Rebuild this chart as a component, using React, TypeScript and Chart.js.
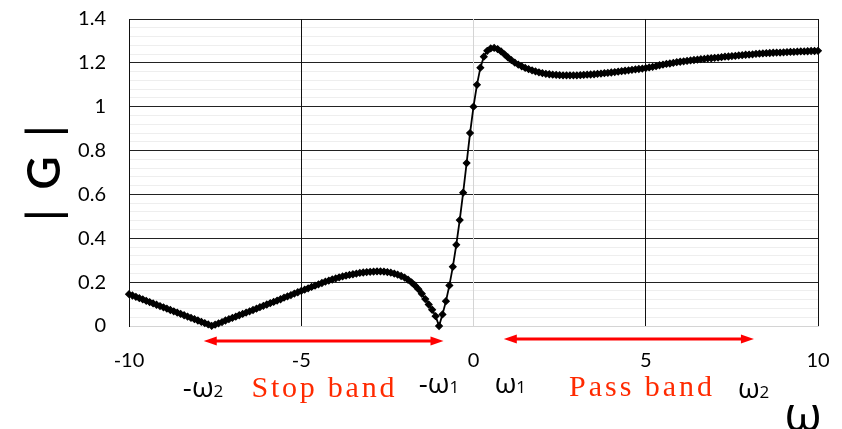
import React, { useEffect, useRef } from "react";
import { Chart, registerables } from "chart.js";

Chart.register(...registerables);

// ω axis categories: -10 … 10, step 0.1
const omegaStart = -10;
const omegaStep = 0.1;

// |G|, ω = -10.0 … -1.0
const gainStopSide = [
  0.145, 0.139, 0.133, 0.127, 0.121, 0.115, 0.109, 0.103, 0.097, 0.091,
  0.085, 0.079, 0.073, 0.067, 0.061, 0.055, 0.049, 0.043, 0.037, 0.031,
  0.025, 0.019, 0.013, 0.007, 0.001,
  0.006, 0.012, 0.018, 0.025, 0.031, 0.037, 0.043, 0.049, 0.055, 0.061,
  0.067, 0.073, 0.079, 0.086, 0.092, 0.098, 0.104, 0.110, 0.116, 0.122,
  0.129, 0.135, 0.141, 0.148, 0.154, 0.160,
  0.166, 0.172, 0.178, 0.184, 0.190, 0.196, 0.202, 0.207, 0.212, 0.217,
  0.222, 0.226, 0.230, 0.233, 0.236, 0.239, 0.242, 0.244, 0.246, 0.247,
  0.248, 0.249, 0.249, 0.248, 0.246, 0.243, 0.239, 0.234, 0.228, 0.221,
  0.211, 0.199, 0.185, 0.168, 0.147, 0.123, 0.098, 0.074, 0.045, 0.000,
];
// ω = -0.9 … 0.0
const gainTransition = [0.053, 0.113, 0.185, 0.27, 0.37, 0.483, 0.608, 0.743, 0.88, 1.0];
// ω = 0.1 … 10.0
const gainPassSide = [
  1.100, 1.178, 1.228, 1.255, 1.266, 1.268, 1.263, 1.252, 1.239, 1.225,
  1.212, 1.201, 1.192, 1.184, 1.177, 1.171, 1.166, 1.161, 1.157, 1.153,
  1.150, 1.148, 1.146, 1.145, 1.144, 1.143, 1.143, 1.143, 1.143, 1.143,
  1.144, 1.145, 1.146, 1.147, 1.148, 1.150, 1.151, 1.153, 1.154, 1.156,
  1.158, 1.160, 1.162, 1.164, 1.166, 1.168, 1.170, 1.172, 1.174, 1.176,
  1.179, 1.182, 1.185, 1.189, 1.192, 1.195, 1.197, 1.200, 1.203, 1.205,
  1.207, 1.209, 1.211, 1.213, 1.215, 1.217, 1.218, 1.220, 1.221, 1.223,
  1.224, 1.226, 1.228, 1.229, 1.231, 1.232, 1.234, 1.235, 1.237, 1.238,
  1.239, 1.241, 1.242, 1.243, 1.244, 1.245, 1.246, 1.247, 1.247, 1.248,
  1.249, 1.250, 1.250, 1.251, 1.252, 1.252, 1.253, 1.254, 1.254, 1.255,
];

const gainValues = [...gainStopSide, ...gainTransition, ...gainPassSide];
const omegaValues = gainValues.map((_, i) => Math.round((omegaStart + i * omegaStep) * 10) / 10);

// axes
const xMin = -10;
const xMax = 10;
const xTickStep = 5;
const yMin = 0;
const yMax = 1.4;
const yMinorStep = 0.04;
const yMajorStep = 0.2;

// band annotations (ω units)
const bandNames = ["Stop band", "Pass band"];
const bandFrom = [-7.83, 0.88];
const bandTo = [-0.87, 8.14];
const bandLabelX = [-4.37, 4.85];

// ω marks under the axis
const omegaMarkText = ["-ω", "-ω", "ω", "ω"];
const omegaMarkSub = ["2", "1", "1", "2"];
const omegaMarkX = [-7.85, -1.0, 1.07, 8.13];

const axisTitleY = "|G|";
const axisTitleX = "ω";

const annotationPlugin = {
  id: "bandAnnotations",
  afterDraw(chart: any) {
    const ctx: CanvasRenderingContext2D = chart.ctx;
    const xs = chart.scales.x;
    const area = chart.chartArea;
    ctx.save();

    // arrows
    const arrowDy = [15, 13];
    bandFrom.forEach((f, i) => {
      const x1 = xs.getPixelForValue(f);
      const x2 = xs.getPixelForValue(bandTo[i]);
      const y = area.bottom + arrowDy[i];
      const head = 13;
      const half = 4.5;
      ctx.strokeStyle = "#ff0000";
      ctx.fillStyle = "#ff0000";
      ctx.lineWidth = 3;
      ctx.beginPath();
      ctx.moveTo(x1 + head - 2, y);
      ctx.lineTo(x2 - head + 2, y);
      ctx.stroke();
      ctx.beginPath();
      ctx.moveTo(x1, y);
      ctx.lineTo(x1 + head, y - half);
      ctx.lineTo(x1 + head, y + half);
      ctx.closePath();
      ctx.fill();
      ctx.beginPath();
      ctx.moveTo(x2, y);
      ctx.lineTo(x2 - head, y - half);
      ctx.lineTo(x2 - head, y + half);
      ctx.closePath();
      ctx.fill();
    });

    // band labels
    const bandBase = [71, 70];
    bandNames.forEach((name, i) => {
      const target = 143;
      ctx.font = '30px "Liberation Serif"';
      (ctx as any).letterSpacing = "0px";
      const w0 = ctx.measureText(name).width;
      const ls = (target - w0) / (name.length - 1);
      (ctx as any).letterSpacing = ls + "px";
      ctx.fillStyle = "#ff2a00";
      ctx.textAlign = "left";
      ctx.textBaseline = "alphabetic";
      ctx.fillText(name, xs.getPixelForValue(bandLabelX[i]) - target / 2, area.bottom + bandBase[i]);
      (ctx as any).letterSpacing = "0px";
    });

    // omega marks
    const markBase = [71, 67, 67, 72];
    omegaMarkText.forEach((t, i) => {
      ctx.fillStyle = "#000";
      ctx.textBaseline = "alphabetic";
      ctx.textAlign = "left";
      ctx.font = '28px "Open Sans"';
      const wMain = ctx.measureText(t).width;
      ctx.font = '17px "Open Sans"';
      const wSub = ctx.measureText(omegaMarkSub[i]).width;
      const cx = xs.getPixelForValue(omegaMarkX[i]);
      const left = cx - (wMain + wSub) / 2;
      const base = area.bottom + markBase[i];
      ctx.font = '28px "Open Sans"';
      ctx.fillText(t, left, base);
      ctx.font = '17px "Open Sans"';
      ctx.fillText(omegaMarkSub[i], left + wMain, base);
    });

    // big ω axis title
    ctx.font = '48px "Open Sans"';
    ctx.textAlign = "center";
    ctx.fillText(axisTitleX, area.right - 15, area.bottom + 105);

    // |G| rotated title
    ctx.translate(60, (area.top + area.bottom) / 2 + 0.5);
    ctx.rotate(-Math.PI / 2);
    ctx.font = '600 46px "Lato"';
    ctx.textAlign = "left";
    const wBar = ctx.measureText("|").width;
    const wG = ctx.measureText("G").width;
    const ls = 42 - (wBar + wG) / 2;
    const start = -(wBar + ls + wG / 2);
    (ctx as any).letterSpacing = ls + "px";
    ctx.fillText(axisTitleY, start, 0);
    (ctx as any).letterSpacing = "0px";

    ctx.restore();
  },
};

export default function App() {
  const ref = useRef<HTMLCanvasElement | null>(null);

  useEffect(() => {
    if (!ref.current) return;
    const chart = new Chart(ref.current, {
      type: "line",
      data: {
        datasets: [
          {
            data: omegaValues.map((x, i) => ({ x, y: gainValues[i] })),
            borderColor: "#000",
            borderWidth: 1.8,
            pointStyle: "rectRot",
            pointRadius: 3.3,
            pointBackgroundColor: "#000",
            pointBorderColor: "#000",
            pointBorderWidth: 1.2,
            tension: 0,
            clip: false as any,
          },
        ],
      },
      options: {
        animation: false,
        responsive: false,
        devicePixelRatio: 1,
        layout: { padding: { left: 0, right: 24, top: 19, bottom: 0 } },
        plugins: { legend: { display: false }, tooltip: { enabled: false } },
        scales: {
          x: {
            type: "linear",
            min: xMin,
            max: xMax,
            afterFit: (s: any) => {
              s.height = 103;
              s.paddingLeft = 0;
              s.paddingRight = 0;
            },
            ticks: {
              stepSize: xTickStep,
              padding: 23,
              color: "#000",
              font: { family: "Lato", size: 20 },
              callback: (v: any) => String(v),
            },
            grid: {
              drawTicks: false,
              z: -0.5,
              color: (c: any) => (c.tick && c.tick.value === 0 ? "#d4d4d4" : "#111"),
              lineWidth: 1,
            },
            border: { display: true, color: "#d4d4d4", width: 1 },
          },
          y: {
            type: "linear",
            min: yMin,
            max: yMax,
            afterFit: (s: any) => {
              s.width = 129;
              s.paddingTop = 0;
              s.paddingBottom = 0;
            },
            ticks: {
              stepSize: yMinorStep,
              autoSkip: false,
              padding: 23,
              color: "#000",
              font: { family: "Lato", size: 20 },
              callback: (v: any) => {
                const k = Math.round(Number(v) * 100);
                const m = Math.round(yMajorStep * 100);
                return k % m === 0 ? String(k / 100) : "";
              },
            },
            grid: {
              drawTicks: false,
              z: -1,
              lineWidth: 1,
              color: (c: any) => {
                const v = c.tick ? c.tick.value : 0;
                const k = Math.round(v * 100);
                if (k === 0) return "#d4d4d4";
                return k % Math.round(yMajorStep * 100) === 0 ? "#222" : "#eeeeee";
              },
            },
            border: { display: true, color: "#111", width: 1 },
          },
        },
      },
      plugins: [annotationPlugin],
    });
    return () => chart.destroy();
  }, []);

  return (
    <div style={{ position: "fixed", left: 0, top: 0, width: 842, height: 429, background: "#fff" }}>
      <canvas ref={ref} width={842} height={429} style={{ display: "block" }} />
    </div>
  );
}
